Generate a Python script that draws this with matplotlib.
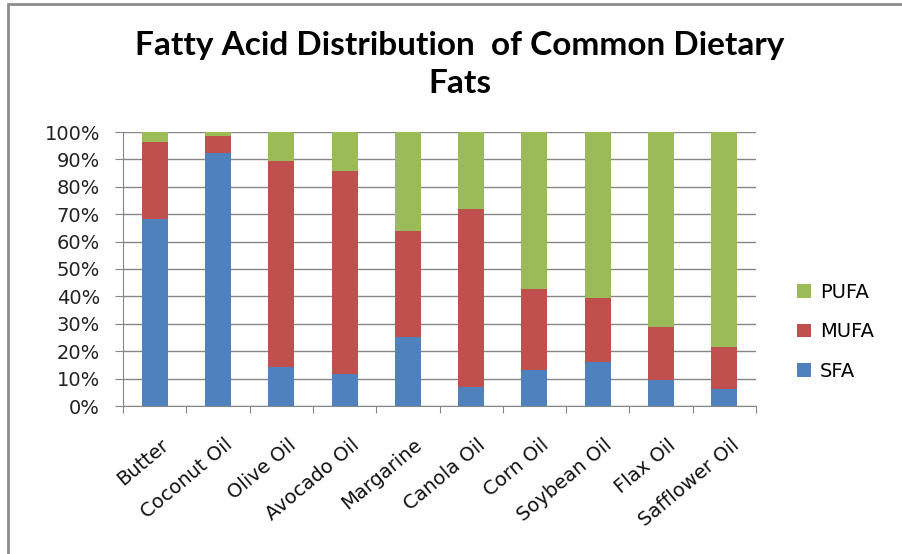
import numpy as np
import matplotlib
matplotlib.use("Agg")
import matplotlib.pyplot as plt
from matplotlib.patches import Rectangle
from matplotlib.transforms import ScaledTranslation

plt.rcParams['font.family'] = ['DejaVu Sans']

foods = ["Butter", "Coconut Oil", "Olive Oil", "Avocado Oil", "Margarine",
         "Canola Oil", "Corn Oil", "Soybean Oil", "Flax Oil", "Safflower Oil"]
sfa = [68.1, 92.3, 14.4, 11.8, 25.3, 6.9, 13.3, 16.1, 9.5, 6.1]
mufa = [28.3, 6.2, 75.1, 74.0, 38.5, 65.0, 29.3, 23.2, 19.2, 15.6]
pufa = [3.6, 1.5, 10.5, 14.2, 36.2, 28.1, 57.4, 60.7, 71.3, 78.3]

c_sfa = "#4F81BD"
c_mufa = "#C0504D"
c_pufa = "#9BBB59"
grid_c = "#868686"

fig = plt.figure(figsize=(9.03, 5.54), dpi=100)
ax = fig.add_axes([123/903, 148/554, 633/903, 274/554])

x = np.arange(len(foods))
w = 0.41
ax.bar(x, sfa, w, color=c_sfa, label="SFA", zorder=3)
ax.bar(x, mufa, w, bottom=sfa, color=c_mufa, label="MUFA", zorder=3)
ax.bar(x, pufa, w, bottom=np.array(sfa) + np.array(mufa), color=c_pufa,
       label="PUFA", zorder=3)

ax.set_xlim(-0.5, len(foods) - 0.5)
ax.set_ylim(0, 100)
ax.set_yticks(np.arange(0, 101, 10))
ax.set_yticklabels([f"{v}%" for v in range(0, 101, 10)], fontsize=14, color="#222222")
ax.yaxis.grid(True, color=grid_c, linewidth=1, zorder=0)

# category boundary ticks on x axis, labels centred on bars
ax.set_xticks(np.arange(-0.5, len(foods), 1))
ax.set_xticklabels([])
ax.set_xticks(x, minor=True)
ax.set_xticklabels(foods, minor=True, rotation=40, ha="right",
                   rotation_mode="anchor", fontsize=14, color="#111111")
ax.tick_params(axis="x", which="minor", length=0, pad=11)
ax.tick_params(axis="x", which="major", length=5, color=grid_c, direction="out")
ax.tick_params(axis="y", length=5.5, color=grid_c, direction="out", pad=11)

# nudge the slanted labels a bit right and down
shift = ScaledTranslation(6/100, -14/100, fig.dpi_scale_trans)
for lbl in ax.get_xticklabels(minor=True):
    lbl.set_transform(lbl.get_transform() + shift)

for s in ["top", "right"]:
    ax.spines[s].set_visible(False)
for s in ["left", "bottom"]:
    ax.spines[s].set_color(grid_c)

handles, labels = ax.get_legend_handles_labels()
fig.legend(handles[::-1], labels[::-1], loc="center left",
           bbox_to_anchor=(797/903, 1 - 332/554), frameon=False,
           fontsize=14, handlelength=0.72, handleheight=0.7,
           labelspacing=1.05, handletextpad=0.45,
           borderpad=0, borderaxespad=0)

fig.text(460/903, 1 - 45/554, "Fatty Acid Distribution  of Common Dietary",
         ha="center", va="center", fontsize=24, fontweight="bold",
         family="Lato")
fig.text(460/903, 1 - 84/554, "Fats", ha="center", va="center",
         fontsize=24, fontweight="bold", family="Lato")

# outer chart frame
fig.patches.append(Rectangle((8/903, -0.1), 1.2, 1 - 4/554 + 0.1,
                             transform=fig.transFigure, fill=False,
                             edgecolor="#8c8c8c", linewidth=2))

fig.savefig("out.png", dpi=100)
